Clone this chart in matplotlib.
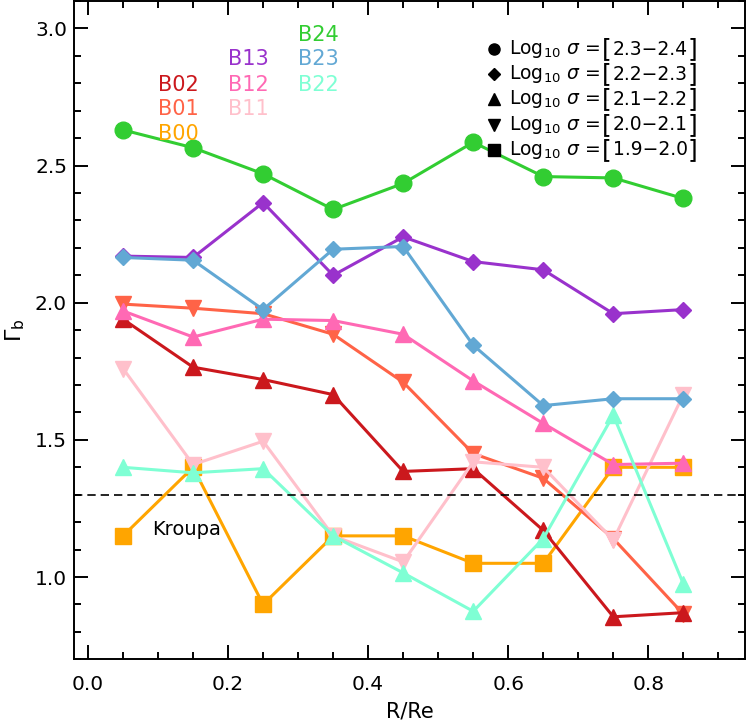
import matplotlib
matplotlib.use('Agg')
import matplotlib.pyplot as plt
from matplotlib.ticker import MultipleLocator

# radial bins (R/Re)
r = [0.05, 0.15, 0.25, 0.35, 0.45, 0.55, 0.65, 0.75, 0.85]

B00 = [1.15, 1.40, 0.90, 1.15, 1.15, 1.05, 1.05, 1.40, 1.40]
B01 = [1.995, 1.98, 1.96, 1.885, 1.71, 1.45, 1.36, 1.14, 0.865]
B02 = [1.94, 1.765, 1.72, 1.665, 1.385, 1.395, 1.17, 0.855, 0.87]
B11 = [1.76, 1.41, 1.495, 1.15, 1.055, 1.42, 1.40, 1.135, 1.665]
B12 = [1.97, 1.875, 1.94, 1.935, 1.885, 1.715, 1.56, 1.41, 1.415]
B13 = [2.17, 2.165, 2.365, 2.10, 2.24, 2.15, 2.12, 1.96, 1.975]
B22 = [1.40, 1.38, 1.395, 1.15, 1.015, 0.875, 1.14, 1.59, 0.975]
B23 = [2.165, 2.155, 1.975, 2.195, 2.205, 1.845, 1.625, 1.65, 1.65]
B24 = [2.63, 2.565, 2.47, 2.34, 2.435, 2.585, 2.46, 2.455, 2.38]

kroupa = 1.3

names = ['B00', 'B01', 'B02', 'B11', 'B12', 'B13', 'B22', 'B23', 'B24']
series = [B00, B01, B02, B11, B12, B13, B22, B23, B24]
colors = ['#FFA500', '#FF6347', '#CB181D', '#FFC0CB', '#FF69B4',
          '#9932CC', '#7FFFD4', '#62A8D4', '#32CD32']
markers = ['s', 'v', '^', 'v', '^', 'D', '^', 'D', 'o']

sigma_bins = ['2.3\u22122.4', '2.2\u22122.3', '2.1\u22122.2', '2.0\u22122.1', '1.9\u22122.0']
sigma_markers = ['o', 'D', '^', 'v', 's']

# where each sample name sits (column x, row y) in data units
label_pos = {
    'B02': (0.10, 2.795), 'B01': (0.10, 2.705), 'B00': (0.10, 2.615),
    'B13': (0.20, 2.890), 'B12': (0.20, 2.795), 'B11': (0.20, 2.705),
    'B24': (0.30, 2.975), 'B23': (0.30, 2.890), 'B22': (0.30, 2.795),
}

fig = plt.figure(figsize=(7.47, 7.23), dpi=100)
ax = fig.add_axes([0.0991, 0.0881, 0.8982, 0.9105])

for name, y, c, m in zip(names, series, colors, markers):
    ms = 8 if m == 'D' else 12
    ax.plot(r, y, color=c, lw=2.2, marker=m, ms=ms, mec=c, mfc=c)

ax.axhline(kroupa, color='black', lw=1.2, ls=(0, (5, 3)))
ax.text(0.091, 1.175, 'Kroupa', fontsize=14, va='center', ha='left')

for name, c in zip(names, colors):
    x, y = label_pos[name]
    ax.text(x, y, name, color=c, fontsize=15, va='center', ha='left')

# legend for velocity dispersion bins
leg_y = [2.925, 2.833, 2.741, 2.649, 2.557]
for yy, lab, m in zip(leg_y, sigma_bins, sigma_markers):
    ax.plot([0.58], [yy], marker=m, color='black', ms=6 if m == 'D' else 8, ls='none')
    ax.text(0.601, yy, r'Log$_{10}$ $\sigma$ =', fontsize=13.5, va='center', ha='left')
    ax.text(0.734, yy, '[', fontsize=18, va='center', ha='left')
    ax.text(0.749, yy, lab, fontsize=13.5, va='center', ha='left')
    ax.text(0.856, yy, ']', fontsize=18, va='center', ha='left')

ax.set_xlim(-0.02, 0.938)
ax.set_ylim(0.7, 3.1)
ax.xaxis.set_major_locator(MultipleLocator(0.2))
ax.xaxis.set_minor_locator(MultipleLocator(0.05))
ax.yaxis.set_major_locator(MultipleLocator(0.5))
ax.yaxis.set_minor_locator(MultipleLocator(0.1))
ax.tick_params(which='both', direction='in', top=True, right=True, width=1.4)
ax.tick_params(which='major', length=10, labelsize=14.5)
ax.tick_params(which='minor', length=5)
ax.tick_params(axis='x', which='major', pad=11)
ax.tick_params(axis='y', which='major', pad=5)
for s in ax.spines.values():
    s.set_linewidth(1.4)

ax.set_xlabel('R/Re', fontsize=15, labelpad=6)
ax.set_ylabel(r'$\Gamma_{\rm b}$', fontsize=16, labelpad=6)

fig.savefig('out.png', dpi=100)
